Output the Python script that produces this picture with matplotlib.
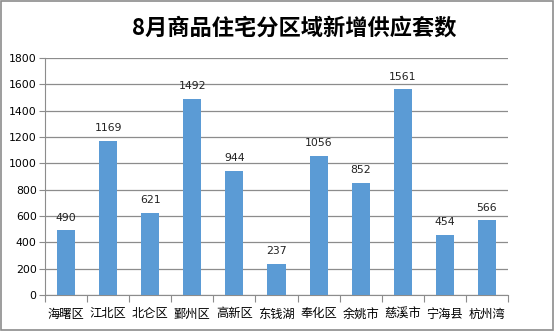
import matplotlib
matplotlib.use("Agg")
import matplotlib.pyplot as plt
import numpy as np

plt.rcParams['font.family'] = ['Noto Sans CJK SC', 'DejaVu Sans']

districts = ['海曙区', '江北区', '北仑区', '鄞州区', '高新区', '东钱湖',
             '奉化区', '余姚市', '慈溪市', '宁海县', '杭州湾']
supply = [490, 1169, 621, 1492, 944, 237, 1056, 852, 1561, 454, 566]
yticks = [0, 200, 400, 600, 800, 1000, 1200, 1400, 1600, 1800]

fig = plt.figure(figsize=(5.55, 3.31), dpi=100)
fig.patch.set_facecolor('white')
# outer chart border
fig.patches.append(plt.Rectangle((0.002, 0.003), 0.995, 0.993, transform=fig.transFigure,
                                 fill=False, edgecolor='#8c8c8c', linewidth=1.2))

ax = fig.add_axes([45 / 555, 36 / 331, 463 / 555, 237 / 331])
x = np.arange(len(districts))
ax.bar(x, supply, width=0.43, color='#5b9bd5', zorder=3)
for xi, v in zip(x, supply):
    ax.text(xi, v + 60, str(v), ha='center', va='bottom', fontsize=7.8,
            family=['DejaVu Sans'], color='#222222')

ax.set_xlim(-0.5, len(districts) - 0.5)
ax.set_ylim(0, 1800)
ax.set_yticks(yticks)
ax.set_yticklabels([str(t) for t in yticks], fontsize=7.8, family=['DejaVu Sans'])
ax.yaxis.grid(True, color='#8c8c8c', linewidth=0.9, zorder=0)

ax.set_xticks(np.arange(-0.5, len(districts), 1.0))
ax.set_xticklabels([])
ax.set_xticks(x, minor=True)
ax.set_xticklabels(districts, minor=True, fontsize=8.8)
ax.tick_params(axis='x', which='minor', length=0, pad=9)
ax.tick_params(axis='x', which='major', length=5, color='#8c8c8c')
ax.tick_params(axis='y', length=4, color='#8c8c8c', pad=2)

for s in ['top', 'right']:
    ax.spines[s].set_visible(False)
ax.spines['left'].set_color('#8c8c8c')
ax.spines['bottom'].set_color('#8c8c8c')

fig.text(294 / 555, 1 - 28 / 331, '8月商品住宅分区域新增供应套数', ha='center', va='center',
         fontsize=16, fontweight='bold')

fig.savefig('out.png', dpi=100)
